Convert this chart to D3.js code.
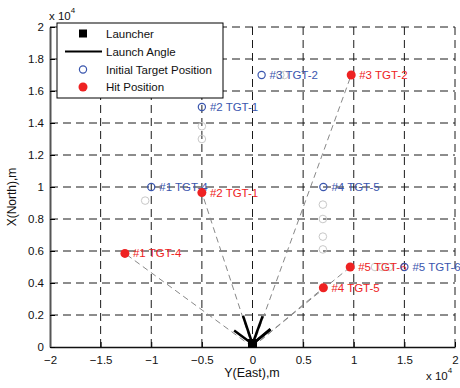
<!DOCTYPE html>
<html>
<head>
<meta charset="utf-8">
<script src="https://cdn.jsdelivr.net/npm/d3@7"></script>
<style>
  body { margin: 0; background: #fff; }
  text { font-family: "Liberation Sans", Arial, sans-serif; }
</style>
</head>
<body>
<div id="chart-area"></div>
<script>
// positions in metres: east (Y) and north (X)
var targetNames = ["#1 TGT-4", "#2 TGT-1", "#3 TGT-2", "#4 TGT-5", "#5 TGT-6"];
var initEast  = [-10000, -5000, 900, 7000, 15000];
var initNorth = [10000, 15000, 17000, 10000, 5000];
var hitEast   = [-12600, -5000, 9750, 7000, 9650];
var hitNorth  = [5850, 9650, 17000, 3700, 5000];
var launchAz  = [-65, -28, 30, 62, 63];   // degrees from north
var launchLen = 2000;
var trackEast  = [-10600, -5000, -5000, 2750, 3150, 6950, 6950, 6950, 6950, 12100, 12800, 13500];
var trackNorth = [9150, 13800, 13000, 17000, 17000, 8900, 8000, 6900, 6100, 5000, 5000, 5000];
var xTicks = [-20000, -15000, -10000, -5000, 0, 5000, 10000, 15000, 20000];
var yTicks = d3.range(0, 20001, 2000);
var legendItems = ["Launcher", "Launch Angle", "Initial Target Position", "Hit Position"];

var W = 460, H = 388;
var pL = 50, pR = 455, pT = 27, pB = 347;
var blue = "#3a56ae", red = "#ee2222";
var fs = 11.5;

var svg = d3.select("#chart-area").append("svg")
  .attr("width", W).attr("height", H);

var x = d3.scaleLinear().domain([-20000, 20000]).range([pL, pR]);
var y = d3.scaleLinear().domain([0, 20000]).range([pB, pT]);
var fmt = function(v) { return d3.format("~g")(v / 10000); };

// grid
var grid = svg.append("g").attr("stroke", "#1a1a1a").attr("stroke-dasharray", "8,5");
grid.selectAll(".gx").data(xTicks.slice(1)).enter().append("line")
  .attr("x1", d => x(d)).attr("x2", d => x(d))
  .attr("y1", pB).attr("y2", pT);
grid.selectAll(".gy").data(yTicks.slice(1)).enter().append("line")
  .attr("y1", d => y(d)).attr("y2", d => y(d))
  .attr("x1", pL).attr("x2", pR);

// axes
var xAxis = svg.append("g").attr("transform", "translate(0," + pB + ")")
  .call(d3.axisBottom(x).tickValues(xTicks).tickFormat(fmt).tickSizeInner(-5).tickSizeOuter(0).tickPadding(9));
var yAxis = svg.append("g").attr("transform", "translate(" + pL + ",0)")
  .call(d3.axisLeft(y).tickValues(yTicks).tickFormat(fmt).tickSizeInner(-5).tickSizeOuter(0).tickPadding(6));
[xAxis, yAxis].forEach(function(a) {
  a.selectAll("text").attr("font-size", fs).attr("fill", "#111")
    .style("font-family", "Liberation Sans, Arial, sans-serif");
});
xAxis.select(".domain").attr("stroke", "#111").attr("stroke-width", 1.5);
yAxis.select(".domain").attr("stroke", "#555").attr("stroke-width", 2);

// exponent notes
function expo(tx, ty) {
  var t = svg.append("text").attr("x", tx).attr("y", ty).attr("font-size", fs).attr("fill", "#111");
  t.append("tspan").text("x 10");
  t.append("tspan").attr("dy", -7).attr("font-size", 8).text("4");
}
expo(49, 20);
expo(426, 380);

// axis titles
svg.append("text").attr("x", 252).attr("y", 377).attr("text-anchor", "middle")
  .attr("font-size", 12.5).attr("fill", "#111").text("Y(East),m");
svg.append("text").attr("transform", "translate(16,197) rotate(-90)").attr("text-anchor", "middle")
  .attr("font-size", 12).attr("fill", "#111").text("X(North),m");

// trajectories
svg.append("g").selectAll("line").data(hitEast).enter().append("line")
  .attr("x1", x(0)).attr("y1", y(0))
  .attr("x2", (d, i) => x(d)).attr("y2", (d, i) => y(hitNorth[i]))
  .attr("stroke", "#888").attr("stroke-width", 1).attr("stroke-dasharray", "6,4");

// intermediate target positions
svg.append("g").selectAll("circle").data(trackEast).enter().append("circle")
  .attr("cx", d => x(d)).attr("cy", (d, i) => y(trackNorth[i])).attr("r", 3.8)
  .attr("fill", "none").attr("stroke", "#c8c8c8").attr("stroke-width", 1);

// labels
svg.append("g").selectAll("text").data(targetNames).enter().append("text")
  .attr("x", (d, i) => x(initEast[i]) + 8).attr("y", (d, i) => y(initNorth[i]) + 4)
  .attr("font-size", fs).attr("fill", blue).text(d => d);
svg.append("g").selectAll("text").data(targetNames).enter().append("text")
  .attr("x", (d, i) => x(hitEast[i]) + 8).attr("y", (d, i) => y(hitNorth[i]) + 4)
  .attr("font-size", fs).attr("fill", red).text(d => d);

// launch angles
svg.append("g").selectAll("line").data(launchAz).enter().append("line")
  .attr("x1", x(0)).attr("y1", y(0) - 3)
  .attr("x2", d => x(launchLen * Math.sin(d * Math.PI / 180)))
  .attr("y2", d => y(launchLen * Math.cos(d * Math.PI / 180)) - 3)
  .attr("stroke", "#000").attr("stroke-width", 2.5);
svg.append("rect").attr("x", x(0) - 4.5).attr("y", y(0) - 8).attr("width", 9).attr("height", 9).attr("fill", "#000");

// initial targets and hits
svg.append("g").selectAll("circle").data(initEast).enter().append("circle")
  .attr("cx", d => x(d)).attr("cy", (d, i) => y(initNorth[i])).attr("r", 3.6)
  .attr("fill", "none").attr("stroke", blue).attr("stroke-width", 1.2);
svg.append("g").selectAll("circle").data(hitEast).enter().append("circle")
  .attr("cx", d => x(d)).attr("cy", (d, i) => y(hitNorth[i])).attr("r", 4.5)
  .attr("fill", red);

// legend
var lg = svg.append("g").attr("transform", "translate(57,23)");
lg.append("rect").attr("width", 166).attr("height", 75).attr("fill", "#fff").attr("stroke", "#000");
var rowY = [10.5, 28.5, 46.5, 64];
lg.append("rect").attr("x", 22).attr("y", rowY[0] - 4).attr("width", 8).attr("height", 8).attr("fill", "#000");
lg.append("line").attr("x1", 8).attr("x2", 45).attr("y1", rowY[1]).attr("y2", rowY[1]).attr("stroke", "#000").attr("stroke-width", 2);
lg.append("circle").attr("cx", 26).attr("cy", rowY[2]).attr("r", 3.6).attr("fill", "none").attr("stroke", blue).attr("stroke-width", 1.2);
lg.append("circle").attr("cx", 26).attr("cy", rowY[3]).attr("r", 4.5).attr("fill", red);
lg.selectAll("text").data(legendItems).enter().append("text")
  .attr("x", 49).attr("y", (d, i) => rowY[i] + 4)
  .attr("font-size", fs).attr("fill", "#111").text(d => d);
</script>
</body>
</html>
